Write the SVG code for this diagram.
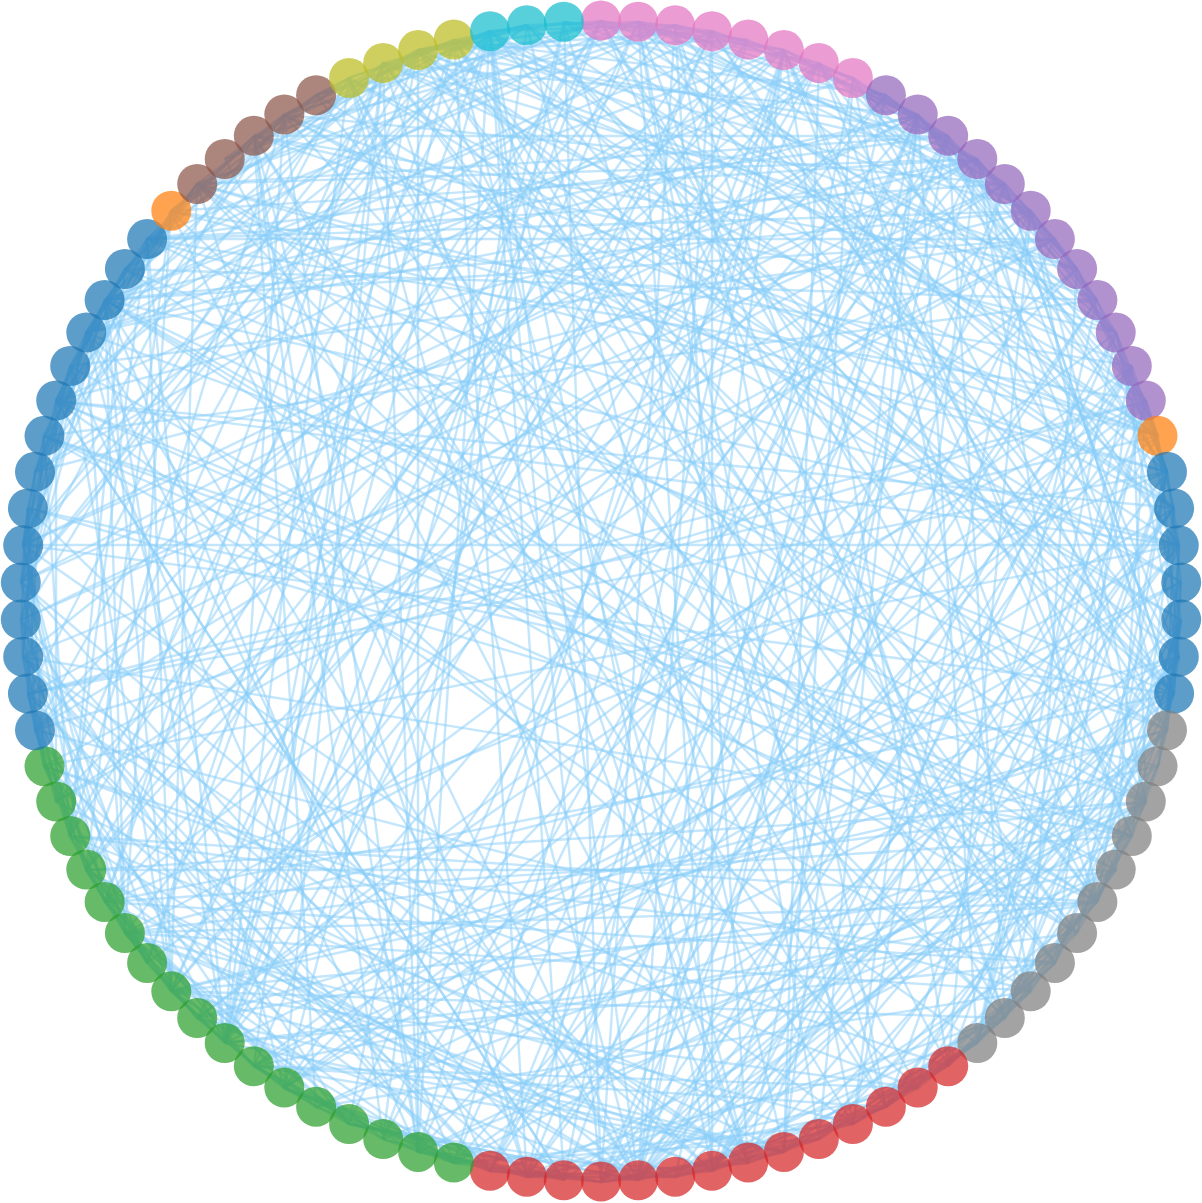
<svg xmlns="http://www.w3.org/2000/svg" width="1202" height="1203" viewBox="0 0 1202 1203">
<style>
#edges path{fill:none;stroke:#87cefa;stroke-opacity:.5;stroke-width:2.4}
.node circle{r:20px;fill-opacity:.72}
.bl circle{fill:#1f77b4}.or circle{fill:#ff7f0e}.gr circle{fill:#2ca02c}.rd circle{fill:#d62728}.pu circle{fill:#9467bd}.br circle{fill:#8c564b}.pk circle{fill:#e377c2}.gy circle{fill:#7f7f7f}.ol circle{fill:#bcbd22}.cy circle{fill:#17becf}
</style>
<rect width="1202" height="1203" fill="#fff"/>
<g id="edges">
<path d="M1055 239L1077 269"/><path d="M1077 269L383 63"/><path d="M383 63L105 902"/><path d="M105 902L1055 963"/><path d="M1055 963L284 115"/><path d="M284 115L56 401"/><path d="M56 401L1116 870"/><path d="M1116 870L977 1043"/><path d="M977 1043L712 1171"/><path d="M712 1171L1179 657"/><path d="M1179 657L819 1139"/><path d="M819 1139L977 1043"/><path d="M56 401L564 1180"/><path d="M564 1180L1167 730"/><path d="M1167 730L147 239"/><path d="M147 239L1146 401"/><path d="M1146 401L28 694"/><path d="M28 694L44 766"/><path d="M44 766L948 1066"/><path d="M948 1066L418 50"/><path d="M418 50L23 545"/><path d="M23 545L948 136"/><path d="M948 136L284 1088"/>
<path d="M284 1088L1158 436"/><path d="M1158 436L564 22"/><path d="M564 22L601 1182"/><path d="M601 1182L784 1152"/><path d="M784 1152L254 1066"/><path d="M254 1066L1179 545"/><path d="M1179 545L853 78"/><path d="M853 78L86 333"/><path d="M86 333L125 933"/><path d="M125 933L819 63"/><path d="M819 63L1167 730"/><path d="M1167 730L171 991"/><path d="M171 991L886 95"/><path d="M886 95L638 22"/><path d="M638 22L197 184"/><path d="M197 184L1167 730"/><path d="M1167 730L712 31"/><path d="M712 31L638 1180"/><path d="M638 1180L1181 620"/><path d="M1181 620L1077 933"/><path d="M1077 933L1167 472"/><path d="M1167 472L1116 333"/><path d="M1116 333L819 63"/><path d="M819 63L56 401"/><path d="M56 401L105 300"/>
<path d="M105 300L1055 239"/><path d="M1055 239L70 366"/><path d="M70 366L197 184"/><path d="M197 184L527 1177"/><path d="M527 1177L1116 870"/><path d="M1116 870L105 300"/><path d="M105 300L1146 802"/><path d="M1146 802L86 870"/><path d="M86 870L675 1177"/><path d="M675 1177L918 115"/><path d="M918 115L977 1043"/><path d="M977 1043L784 1152"/><path d="M784 1152L225 1043"/><path d="M225 1043L490 31"/><path d="M490 31L564 1180"/><path d="M564 1180L284 1088"/><path d="M284 1088L1174 508"/><path d="M1174 508L1132 836"/><path d="M1132 836L23 657"/><path d="M23 657L454 1163"/><path d="M454 1163L254 1066"/><path d="M254 1066L918 1088"/><path d="M918 1088L86 333"/><path d="M86 333L1167 730"/><path d="M1167 730L638 1180"/>
<path d="M638 1180L977 159"/><path d="M977 159L1116 333"/><path d="M1116 333L748 1163"/><path d="M748 1163L675 25"/><path d="M675 25L147 239"/><path d="M147 239L948 136"/><path d="M948 136L1174 694"/><path d="M1174 694L638 22"/><path d="M638 22L418 50"/><path d="M418 50L171 211"/><path d="M171 211L1167 472"/><path d="M1167 472L948 136"/><path d="M948 136L383 1139"/><path d="M383 1139L254 1066"/><path d="M254 1066L125 933"/><path d="M125 933L712 1171"/><path d="M712 1171L1174 508"/><path d="M1174 508L454 40"/><path d="M454 40L284 115"/><path d="M284 115L418 1152"/><path d="M418 1152L418 50"/><path d="M418 50L712 31"/><path d="M712 31L86 333"/><path d="M86 333L527 25"/><path d="M527 25L784 1152"/>
<path d="M784 1152L1167 730"/><path d="M86 333L918 115"/><path d="M918 115L23 545"/><path d="M23 545L86 870"/><path d="M86 870L254 1066"/><path d="M254 1066L1097 902"/><path d="M1097 902L784 1152"/><path d="M784 1152L197 1018"/><path d="M197 1018L1167 730"/><path d="M1167 730L675 1177"/><path d="M675 1177L349 1124"/><path d="M349 1124L638 1180"/><path d="M638 1180L1179 545"/><path d="M1179 545L1005 1018"/><path d="M1005 1018L197 184"/><path d="M197 184L44 436"/><path d="M44 436L1132 836"/><path d="M1132 836L105 902"/><path d="M105 902L1174 694"/><path d="M1174 694L1005 184"/><path d="M1005 184L638 22"/><path d="M638 22L316 95"/><path d="M316 95L349 78"/><path d="M349 78L748 1163"/>
<path d="M748 1163L125 933"/><path d="M125 933L171 211"/><path d="M171 211L86 870"/><path d="M86 870L383 63"/><path d="M383 63L1077 933"/><path d="M1077 933L225 1043"/><path d="M1077 933L197 184"/><path d="M197 184L948 136"/><path d="M948 136L748 1163"/><path d="M748 1163L819 1139"/><path d="M1179 657L125 933"/><path d="M125 933L105 300"/><path d="M105 300L1031 211"/><path d="M1031 211L948 1066"/><path d="M948 1066L1031 991"/><path d="M1031 991L853 78"/><path d="M853 78L1179 657"/><path d="M1179 657L675 25"/><path d="M675 25L601 1182"/><path d="M601 1182L1055 239"/><path d="M1055 239L1005 184"/><path d="M1005 184L21 620"/><path d="M21 620L23 657"/>
<path d="M23 657L748 1163"/><path d="M748 1163L225 159"/><path d="M225 159L601 21"/><path d="M601 21L86 870"/><path d="M86 870L819 63"/><path d="M819 63L1132 836"/><path d="M1132 836L383 1139"/><path d="M383 1139L254 136"/><path d="M254 136L1116 333"/><path d="M1116 333L638 1180"/><path d="M638 1180L86 333"/><path d="M86 333L490 1171"/><path d="M490 1171L918 115"/><path d="M918 115L1158 436"/><path d="M1158 436L527 25"/><path d="M527 25L1167 730"/><path d="M1167 730L1158 766"/><path d="M1158 766L1181 620"/><path d="M1181 620L918 1088"/><path d="M918 1088L349 78"/><path d="M349 78L28 694"/><path d="M28 694L454 1163"/><path d="M454 1163L125 933"/><path d="M125 933L1031 991"/><path d="M1031 991L44 436"/>
<path d="M44 436L383 63"/><path d="M383 63L254 1066"/><path d="M254 1066L712 31"/><path d="M712 31L225 1043"/><path d="M225 1043L638 22"/><path d="M638 22L1031 211"/><path d="M1031 211L1146 802"/><path d="M1146 802L454 1163"/><path d="M454 1163L784 50"/><path d="M784 50L638 1180"/><path d="M638 1180L105 300"/><path d="M105 300L748 40"/><path d="M748 40L86 870"/><path d="M86 870L490 1171"/><path d="M490 1171L1031 211"/><path d="M1031 211L147 239"/><path d="M147 239L1055 239"/><path d="M1055 239L44 766"/><path d="M44 766L527 1177"/><path d="M527 1177L454 40"/><path d="M454 40L1077 269"/><path d="M1077 269L977 159"/><path d="M977 159L225 1043"/><path d="M225 1043L454 40"/><path d="M454 40L1097 902"/>
<path d="M1097 902L784 50"/><path d="M784 50L23 657"/><path d="M23 657L35 730"/><path d="M35 730L1031 991"/><path d="M1031 991L316 1107"/><path d="M316 1107L254 1066"/><path d="M254 1066L1146 401"/><path d="M1146 401L454 1163"/><path d="M454 1163L918 115"/><path d="M918 115L1167 472"/><path d="M1167 472L197 184"/><path d="M197 184L977 159"/><path d="M977 159L21 620"/><path d="M21 620L86 333"/><path d="M86 333L418 50"/><path d="M418 50L1179 657"/><path d="M1179 657L977 159"/><path d="M977 159L56 401"/><path d="M56 401L1132 836"/><path d="M1132 836L784 50"/><path d="M784 50L977 159"/><path d="M977 159L171 211"/><path d="M171 211L638 1180"/>
<path d="M638 1180L853 78"/><path d="M853 78L784 1152"/><path d="M784 1152L171 991"/><path d="M171 991L1005 1018"/><path d="M1005 1018L638 22"/><path d="M638 22L171 991"/><path d="M171 991L21 582"/><path d="M21 582L490 31"/><path d="M490 31L70 836"/><path d="M70 836L1055 963"/><path d="M1055 963L1132 366"/><path d="M1132 366L171 211"/><path d="M171 211L23 545"/><path d="M23 545L1174 694"/><path d="M1174 694L1181 582"/><path d="M1181 582L284 115"/><path d="M284 115L1005 184"/><path d="M1005 184L1174 694"/><path d="M1174 694L418 50"/><path d="M86 333L125 269"/><path d="M125 269L638 22"/><path d="M638 22L1146 401"/><path d="M1146 401L601 1182"/><path d="M601 1182L1005 184"/>
<path d="M886 1107L254 1066"/><path d="M254 1066L1179 657"/><path d="M1179 657L454 1163"/><path d="M454 1163L284 1088"/><path d="M284 1088L564 22"/><path d="M564 22L418 50"/><path d="M418 50L1179 545"/><path d="M1179 545L147 239"/><path d="M147 239L171 991"/><path d="M171 991L125 933"/><path d="M125 933L1097 902"/><path d="M1097 902L125 269"/><path d="M125 269L1174 694"/><path d="M1174 694L490 31"/><path d="M490 31L675 25"/><path d="M675 25L254 136"/><path d="M254 136L886 1107"/><path d="M886 1107L564 22"/><path d="M564 22L1097 300"/><path d="M1097 300L418 50"/><path d="M1005 1018L527 1177"/><path d="M527 1177L784 50"/><path d="M784 50L105 300"/><path d="M105 300L918 115"/>
<path d="M918 115L21 582"/><path d="M21 582L454 40"/><path d="M454 40L748 1163"/><path d="M748 1163L383 63"/><path d="M383 63L1146 802"/><path d="M1146 802L44 436"/><path d="M44 436L1097 300"/><path d="M1097 300L918 1088"/><path d="M918 1088L171 991"/><path d="M171 991L197 184"/><path d="M197 184L1158 436"/><path d="M1158 436L284 115"/><path d="M284 115L601 21"/><path d="M601 21L171 991"/><path d="M171 991L70 366"/><path d="M70 366L1077 933"/><path d="M1077 933L105 300"/><path d="M105 300L454 1163"/><path d="M454 1163L853 1124"/><path d="M853 1124L977 159"/><path d="M977 159L35 730"/><path d="M35 730L70 836"/><path d="M70 836L601 21"/><path d="M601 21L1167 472"/>
<path d="M1167 472L638 1180"/><path d="M638 1180L886 95"/><path d="M886 95L105 902"/><path d="M105 902L1031 211"/><path d="M1031 211L1167 730"/><path d="M1167 730L1179 545"/><path d="M1179 545L819 63"/><path d="M125 933L35 730"/><path d="M35 730L418 50"/><path d="M418 50L147 239"/><path d="M147 239L225 1043"/><path d="M564 1180L784 50"/><path d="M105 300L1179 545"/><path d="M1179 545L1116 333"/><path d="M1116 333L1181 620"/><path d="M1181 620L1055 963"/><path d="M1055 963L454 40"/><path d="M454 40L886 95"/><path d="M886 95L1005 184"/><path d="M1005 184L147 239"/><path d="M147 239L86 333"/><path d="M86 333L977 159"/><path d="M977 159L21 582"/><path d="M21 582L564 1180"/>
<path d="M1167 730L886 1107"/><path d="M886 1107L675 25"/><path d="M675 25L35 730"/><path d="M35 730L1146 401"/><path d="M1146 401L977 1043"/><path d="M977 1043L490 1171"/><path d="M490 1171L977 159"/><path d="M784 50L383 1139"/><path d="M383 1139L527 25"/><path d="M171 991L1158 766"/><path d="M1158 766L638 1180"/><path d="M638 1180L490 31"/><path d="M490 31L601 1182"/><path d="M601 1182L1146 802"/><path d="M1146 802L977 1043"/><path d="M1146 401L125 933"/><path d="M125 933L853 1124"/><path d="M853 1124L254 136"/><path d="M254 136L948 136"/><path d="M948 136L564 22"/><path d="M564 22L349 1124"/><path d="M349 1124L105 902"/><path d="M105 902L418 50"/><path d="M418 50L1077 933"/>
<path d="M1077 933L712 1171"/><path d="M712 1171L1005 184"/><path d="M147 239L23 545"/><path d="M23 545L125 933"/><path d="M105 300L1097 902"/><path d="M1097 902L44 436"/><path d="M44 436L70 836"/><path d="M70 836L125 269"/><path d="M125 269L1097 300"/><path d="M1097 300L490 1171"/><path d="M490 1171L28 694"/><path d="M28 694L1158 436"/><path d="M1158 436L1146 401"/><path d="M1146 401L918 115"/>
<path d="M349 1124L638 1180"/><path d="M349 1124L44 766"/><path d="M44 766L1179 545"/><path d="M1179 545L712 1171"/><path d="M712 1171L712 31"/><path d="M638 1180L197 1018"/><path d="M197 1018L748 40"/><path d="M748 40L418 1152"/><path d="M418 1152L1116 870"/><path d="M1116 870L86 870"/><path d="M86 870L638 1180"/><path d="M1167 472L1097 902"/><path d="M1097 902L418 50"/><path d="M418 50L225 1043"/><path d="M225 1043L23 657"/><path d="M225 1043L1181 582"/><path d="M1181 582L349 78"/><path d="M349 78L886 1107"/><path d="M886 1107L1174 694"/><path d="M1174 694L1005 1018"/><path d="M1005 1018L1181 582"/><path d="M1181 582L284 1088"/><path d="M284 1088L35 730"/><path d="M35 730L819 63"/><path d="M819 63L225 1043"/>
<path d="M225 1043L147 963"/><path d="M147 963L1077 269"/><path d="M1077 269L284 1088"/><path d="M284 1088L86 333"/><path d="M86 333L21 582"/><path d="M21 582L254 136"/><path d="M254 136L1077 269"/><path d="M1077 269L1158 436"/><path d="M1158 436L383 63"/><path d="M383 63L918 115"/><path d="M918 115L171 991"/><path d="M171 991L105 300"/><path d="M105 300L383 63"/><path d="M383 63L418 1152"/><path d="M418 1152L918 115"/><path d="M1116 333L1077 269"/><path d="M1077 269L1031 991"/><path d="M1031 991L819 1139"/><path d="M819 1139L70 836"/><path d="M70 836L284 115"/><path d="M284 115L1181 620"/><path d="M1181 620L316 95"/><path d="M316 95L1031 991"/><path d="M1031 991L601 21"/><path d="M601 21L977 159"/>
<path d="M977 159L1097 902"/><path d="M784 50L1146 802"/><path d="M1146 802L418 1152"/><path d="M418 1152L254 136"/><path d="M254 136L1158 436"/><path d="M1158 436L712 1171"/><path d="M712 1171L105 902"/><path d="M105 902L1167 472"/><path d="M1167 472L977 1043"/><path d="M977 1043L886 1107"/><path d="M886 1107L712 1171"/><path d="M712 1171L490 31"/><path d="M490 31L1146 401"/><path d="M1146 401L886 1107"/><path d="M886 1107L527 1177"/><path d="M527 1177L1097 300"/><path d="M1097 300L918 115"/><path d="M918 115L819 1139"/><path d="M819 1139L1146 802"/><path d="M1146 802L316 1107"/><path d="M316 1107L1174 694"/><path d="M1174 694L712 31"/><path d="M712 31L105 902"/><path d="M105 902L23 545"/><path d="M23 545L490 31"/>
<path d="M490 31L1146 802"/><path d="M383 63L1132 366"/><path d="M1132 366L197 1018"/><path d="M197 1018L1116 333"/><path d="M1116 333L977 1043"/><path d="M1146 401L1116 870"/><path d="M1116 870L197 1018"/><path d="M1116 333L418 50"/><path d="M418 50L948 136"/><path d="M948 136L527 1177"/><path d="M527 1177L1132 366"/><path d="M1132 366L418 1152"/><path d="M418 1152L70 366"/><path d="M70 366L21 582"/><path d="M21 582L712 1171"/><path d="M1179 545L56 401"/><path d="M56 401L527 25"/><path d="M527 25L1174 694"/><path d="M1174 694L601 1182"/><path d="M601 1182L349 1124"/><path d="M349 1124L21 620"/><path d="M21 620L527 1177"/><path d="M527 1177L254 136"/><path d="M254 136L316 1107"/><path d="M316 1107L490 1171"/>
<path d="M490 1171L23 657"/><path d="M23 657L638 1180"/><path d="M638 1180L349 78"/><path d="M349 78L1174 508"/><path d="M1174 508L56 401"/><path d="M56 401L977 1043"/><path d="M977 1043L1132 366"/><path d="M1132 366L1146 802"/><path d="M1146 802L977 159"/><path d="M977 159L454 40"/>
<path d="M601 21L1097 902"/><path d="M1097 902L70 836"/><path d="M1097 902L171 991"/><path d="M784 1152L819 63"/><path d="M819 63L349 1124"/><path d="M349 1124L125 933"/><path d="M125 933L1146 802"/><path d="M1146 802L197 184"/><path d="M197 184L675 25"/><path d="M675 25L1031 211"/><path d="M1031 211L454 40"/><path d="M454 40L147 963"/><path d="M147 963L490 31"/><path d="M490 31L1174 508"/><path d="M1174 508L675 1177"/><path d="M675 1177L1005 1018"/><path d="M1005 1018L1146 401"/><path d="M1146 401L853 78"/><path d="M853 78L675 25"/><path d="M675 25L1116 333"/><path d="M1116 333L601 21"/><path d="M601 21L225 1043"/><path d="M454 40L1005 1018"/><path d="M1005 1018L675 25"/><path d="M675 25L35 472"/>
<path d="M35 472L784 50"/><path d="M784 50L948 1066"/><path d="M948 1066L1167 472"/><path d="M1167 472L28 694"/><path d="M28 508L1158 766"/><path d="M1158 766L1132 836"/><path d="M1132 836L28 508"/><path d="M28 508L23 545"/><path d="M23 545L1179 545"/><path d="M147 239L70 836"/><path d="M70 836L638 1180"/><path d="M638 1180L1132 366"/><path d="M1132 366L712 1171"/><path d="M712 1171L28 508"/><path d="M28 508L44 766"/><path d="M44 766L918 1088"/><path d="M918 1088L527 1177"/><path d="M1116 870L601 21"/><path d="M601 21L784 50"/><path d="M784 50L56 802"/><path d="M56 802L1005 184"/><path d="M1005 184L28 694"/><path d="M28 694L748 1163"/><path d="M748 1163L1179 657"/><path d="M1179 657L1055 963"/>
<path d="M1055 963L225 1043"/><path d="M225 1043L105 300"/><path d="M105 300L35 472"/><path d="M35 472L1031 211"/><path d="M1031 211L853 1124"/><path d="M853 1124L23 545"/><path d="M23 545L35 472"/><path d="M35 472L284 115"/><path d="M284 115L225 1043"/><path d="M225 1043L349 78"/><path d="M349 78L21 620"/><path d="M21 620L147 963"/><path d="M147 963L28 694"/><path d="M44 436L23 657"/><path d="M23 657L1055 239"/><path d="M1055 239L56 802"/><path d="M56 802L784 1152"/><path d="M784 1152L918 115"/><path d="M918 115L638 22"/><path d="M638 22L1174 508"/><path d="M1174 508L601 1182"/><path d="M601 1182L454 1163"/><path d="M454 1163L819 1139"/><path d="M819 1139L638 22"/><path d="M638 22L712 1171"/>
<path d="M712 1171L418 1152"/><path d="M418 1152L490 31"/><path d="M490 31L171 211"/><path d="M171 211L1005 1018"/><path d="M1005 1018L948 136"/><path d="M948 136L564 1180"/><path d="M564 1180L56 401"/><path d="M56 401L56 802"/><path d="M56 802L383 63"/><path d="M383 63L284 1088"/><path d="M383 63L1055 963"/><path d="M1055 963L853 1124"/><path d="M853 1124L638 22"/>
<path d="M601 21L819 63"/><path d="M638 22L712 31"/><path d="M675 25L784 50"/><path d="M712 31L918 115"/><path d="M748 40L918 115"/><path d="M784 50L853 78"/><path d="M819 63L918 115"/><path d="M853 78L948 136"/><path d="M886 95L1055 239"/><path d="M918 115L1031 211"/><path d="M948 136L1077 269"/><path d="M1005 184L1077 269"/><path d="M1031 211L1077 269"/><path d="M1055 239L1146 401"/><path d="M1077 269L1167 472"/><path d="M1097 300L1167 472"/><path d="M1116 333L1158 436"/><path d="M1132 366L1167 472"/><path d="M1146 401L1167 472"/><path d="M1158 436L1179 657"/><path d="M1167 472L1179 545"/><path d="M1174 508L1167 730"/><path d="M1181 582L1167 730"/><path d="M1181 620L1167 730"/><path d="M1179 657L1158 766"/>
<path d="M1174 694L1097 902"/><path d="M1167 730L1097 902"/><path d="M1158 766L1097 902"/><path d="M1146 802L1097 902"/><path d="M1132 836L1031 991"/><path d="M1116 870L1005 1018"/><path d="M1097 902L948 1066"/><path d="M1077 933L948 1066"/><path d="M1055 963L977 1043"/><path d="M1031 991L977 1043"/><path d="M1005 1018L886 1107"/><path d="M977 1043L853 1124"/><path d="M948 1066L853 1124"/><path d="M918 1088L853 1124"/><path d="M886 1107L748 1163"/><path d="M853 1124L638 1180"/><path d="M819 1139L601 1182"/><path d="M784 1152L675 1177"/><path d="M748 1163L527 1177"/><path d="M712 1171L601 1182"/><path d="M675 1177L527 1177"/><path d="M638 1180L490 1171"/><path d="M601 1182L418 1152"/><path d="M564 1180L418 1152"/>
<path d="M527 1177L383 1139"/><path d="M490 1171L284 1088"/><path d="M454 1163L383 1139"/><path d="M418 1152L254 1066"/><path d="M349 1124L284 1088"/><path d="M284 1088L197 1018"/><path d="M254 1066L171 991"/><path d="M225 1043L171 991"/><path d="M197 1018L125 933"/><path d="M171 991L70 836"/><path d="M147 963L86 870"/><path d="M125 933L86 870"/><path d="M105 902L70 836"/><path d="M86 870L28 694"/><path d="M70 836L23 657"/><path d="M56 802L28 694"/><path d="M44 766L21 620"/><path d="M35 730L28 508"/><path d="M28 694L28 508"/><path d="M23 657L35 472"/><path d="M21 620L28 508"/><path d="M21 582L28 508"/><path d="M23 545L56 401"/><path d="M28 508L44 436"/>
<path d="M35 472L125 269"/><path d="M44 436L105 300"/><path d="M56 401L86 333"/><path d="M105 300L197 184"/><path d="M125 269L254 136"/><path d="M147 239L254 136"/><path d="M171 211L349 78"/><path d="M197 184L316 95"/><path d="M225 159L284 115"/><path d="M254 136L454 40"/><path d="M284 115L349 78"/><path d="M316 95L527 25"/><path d="M349 78L454 40"/><path d="M383 63L527 25"/><path d="M418 50L527 25"/><path d="M454 40L527 25"/><path d="M527 25L638 22"/><path d="M564 22L784 50"/>
<path d="M638 22L748 40"/><path d="M712 31L853 78"/><path d="M784 50L948 136"/><path d="M853 78L1005 184"/><path d="M918 115L1116 333"/><path d="M977 159L1097 300"/><path d="M1031 211L1097 300"/><path d="M1116 333L1179 657"/><path d="M1146 401L1174 508"/><path d="M1167 472L1181 582"/><path d="M1179 545L1174 694"/><path d="M1181 620L1158 766"/><path d="M1158 766L1055 963"/><path d="M1132 836L1077 933"/><path d="M1097 902L886 1107"/><path d="M1055 963L886 1107"/><path d="M1005 1018L918 1088"/><path d="M948 1066L675 1177"/><path d="M886 1107L638 1180"/><path d="M819 1139L675 1177"/><path d="M748 1163L601 1182"/><path d="M675 1177L490 1171"/><path d="M601 1182L490 1171"/><path d="M527 1177L284 1088"/>
<path d="M454 1163L171 991"/><path d="M383 1139L125 933"/><path d="M316 1107L105 902"/><path d="M197 1018L105 902"/><path d="M147 963L44 766"/><path d="M105 902L44 766"/><path d="M70 836L21 582"/><path d="M28 694L44 436"/><path d="M21 620L105 300"/><path d="M23 545L70 366"/><path d="M35 472L171 211"/><path d="M56 401L125 269"/><path d="M86 333L197 184"/><path d="M125 269L316 95"/><path d="M171 211L284 115"/><path d="M225 159L490 31"/><path d="M284 115L418 50"/><path d="M349 78L490 31"/><path d="M418 50L748 40"/><path d="M490 31L601 21"/><path d="M564 22L748 40"/>
</g>
<g id="nodes">
<g id="n0" class="node pk"><circle cx="601" cy="20.5"/></g>
<g id="n1" class="node pk"><circle cx="638.2" cy="21.7"/></g>
<g id="n2" class="node pk"><circle cx="675.2" cy="25.3"/></g>
<g id="n3" class="node pk"><circle cx="712" cy="31.2"/></g>
<g id="n4" class="node pk"><circle cx="748.2" cy="39.5"/></g>
<g id="n5" class="node pk"><circle cx="783.9" cy="50.1"/></g>
<g id="n6" class="node pk"><circle cx="818.8" cy="62.9"/></g>
<g id="n7" class="node pk"><circle cx="852.9" cy="78"/></g>
<g id="n8" class="node pu"><circle cx="885.9" cy="95.2"/></g>
<g id="n9" class="node pu"><circle cx="917.7" cy="114.5"/></g>
<g id="n10" class="node pu"><circle cx="948.2" cy="135.8"/></g>
<g id="n11" class="node pu"><circle cx="977.3" cy="159"/></g>
<g id="n12" class="node pu"><circle cx="1004.8" cy="184"/></g>
<g id="n13" class="node pu"><circle cx="1030.7" cy="210.7"/></g>
<g id="n14" class="node pu"><circle cx="1054.9" cy="239.1"/></g>
<g id="n15" class="node pu"><circle cx="1077.1" cy="268.9"/></g>
<g id="n16" class="node pu"><circle cx="1097.4" cy="300.1"/></g>
<g id="n17" class="node pu"><circle cx="1115.7" cy="332.5"/></g>
<g id="n18" class="node pu"><circle cx="1131.8" cy="366"/></g>
<g id="n19" class="node pu"><circle cx="1145.8" cy="400.5"/></g>
<g id="n20" class="node or"><circle cx="1157.5" cy="435.8"/></g>
<g id="n21" class="node bl"><circle cx="1167" cy="471.8"/></g>
<g id="n22" class="node bl"><circle cx="1174.1" cy="508.4"/></g>
<g id="n23" class="node bl"><circle cx="1178.8" cy="545.3"/></g>
<g id="n24" class="node bl"><circle cx="1181.2" cy="582.4"/></g>
<g id="n25" class="node bl"><circle cx="1181.2" cy="619.6"/></g>
<g id="n26" class="node bl"><circle cx="1178.8" cy="656.7"/></g>
<g id="n27" class="node bl"><circle cx="1174.1" cy="693.6"/></g>
<g id="n28" class="node gy"><circle cx="1167" cy="730.2"/></g>
<g id="n29" class="node gy"><circle cx="1157.5" cy="766.2"/></g>
<g id="n30" class="node gy"><circle cx="1145.8" cy="801.5"/></g>
<g id="n31" class="node gy"><circle cx="1131.8" cy="836"/></g>
<g id="n32" class="node gy"><circle cx="1115.7" cy="869.5"/></g>
<g id="n33" class="node gy"><circle cx="1097.4" cy="901.9"/></g>
<g id="n34" class="node gy"><circle cx="1077.1" cy="933.1"/></g>
<g id="n35" class="node gy"><circle cx="1054.9" cy="962.9"/></g>
<g id="n36" class="node gy"><circle cx="1030.7" cy="991.3"/></g>
<g id="n37" class="node gy"><circle cx="1004.8" cy="1018"/></g>
<g id="n38" class="node gy"><circle cx="977.3" cy="1043"/></g>
<g id="n39" class="node rd"><circle cx="948.2" cy="1066.2"/></g>
<g id="n40" class="node rd"><circle cx="917.7" cy="1087.5"/></g>
<g id="n41" class="node rd"><circle cx="885.9" cy="1106.8"/></g>
<g id="n42" class="node rd"><circle cx="852.9" cy="1124"/></g>
<g id="n43" class="node rd"><circle cx="818.8" cy="1139.1"/></g>
<g id="n44" class="node rd"><circle cx="783.9" cy="1151.9"/></g>
<g id="n45" class="node rd"><circle cx="748.2" cy="1162.5"/></g>
<g id="n46" class="node rd"><circle cx="712" cy="1170.8"/></g>
<g id="n47" class="node rd"><circle cx="675.2" cy="1176.7"/></g>
<g id="n48" class="node rd"><circle cx="638.2" cy="1180.3"/></g>
<g id="n49" class="node rd"><circle cx="601" cy="1181.5"/></g>
<g id="n50" class="node rd"><circle cx="563.8" cy="1180.3"/></g>
<g id="n51" class="node rd"><circle cx="526.8" cy="1176.7"/></g>
<g id="n52" class="node rd"><circle cx="490" cy="1170.8"/></g>
<g id="n53" class="node gr"><circle cx="453.8" cy="1162.5"/></g>
<g id="n54" class="node gr"><circle cx="418.1" cy="1151.9"/></g>
<g id="n55" class="node gr"><circle cx="383.2" cy="1139.1"/></g>
<g id="n56" class="node gr"><circle cx="349.1" cy="1124"/></g>
<g id="n57" class="node gr"><circle cx="316.1" cy="1106.8"/></g>
<g id="n58" class="node gr"><circle cx="284.3" cy="1087.5"/></g>
<g id="n59" class="node gr"><circle cx="253.8" cy="1066.2"/></g>
<g id="n60" class="node gr"><circle cx="224.7" cy="1043"/></g>
<g id="n61" class="node gr"><circle cx="197.2" cy="1018"/></g>
<g id="n62" class="node gr"><circle cx="171.3" cy="991.3"/></g>
<g id="n63" class="node gr"><circle cx="147.1" cy="962.9"/></g>
<g id="n64" class="node gr"><circle cx="124.9" cy="933.1"/></g>
<g id="n65" class="node gr"><circle cx="104.6" cy="901.9"/></g>
<g id="n66" class="node gr"><circle cx="86.3" cy="869.5"/></g>
<g id="n67" class="node gr"><circle cx="70.2" cy="836"/></g>
<g id="n68" class="node gr"><circle cx="56.2" cy="801.5"/></g>
<g id="n69" class="node gr"><circle cx="44.5" cy="766.2"/></g>
<g id="n70" class="node bl"><circle cx="35" cy="730.2"/></g>
<g id="n71" class="node bl"><circle cx="27.9" cy="693.6"/></g>
<g id="n72" class="node bl"><circle cx="23.2" cy="656.7"/></g>
<g id="n73" class="node bl"><circle cx="20.8" cy="619.6"/></g>
<g id="n74" class="node bl"><circle cx="20.8" cy="582.4"/></g>
<g id="n75" class="node bl"><circle cx="23.2" cy="545.3"/></g>
<g id="n76" class="node bl"><circle cx="27.9" cy="508.4"/></g>
<g id="n77" class="node bl"><circle cx="35" cy="471.8"/></g>
<g id="n78" class="node bl"><circle cx="44.5" cy="435.8"/></g>
<g id="n79" class="node bl"><circle cx="56.2" cy="400.5"/></g>
<g id="n80" class="node bl"><circle cx="70.2" cy="366"/></g>
<g id="n81" class="node bl"><circle cx="86.3" cy="332.5"/></g>
<g id="n82" class="node bl"><circle cx="104.6" cy="300.1"/></g>
<g id="n83" class="node bl"><circle cx="124.9" cy="268.9"/></g>
<g id="n84" class="node bl"><circle cx="147.1" cy="239.1"/></g>
<g id="n85" class="node or"><circle cx="171.3" cy="210.7"/></g>
<g id="n86" class="node br"><circle cx="197.2" cy="184"/></g>
<g id="n87" class="node br"><circle cx="224.7" cy="159"/></g>
<g id="n88" class="node br"><circle cx="253.8" cy="135.8"/></g>
<g id="n89" class="node br"><circle cx="284.3" cy="114.5"/></g>
<g id="n90" class="node br"><circle cx="316.1" cy="95.2"/></g>
<g id="n91" class="node ol"><circle cx="349.1" cy="78"/></g>
<g id="n92" class="node ol"><circle cx="383.2" cy="62.9"/></g>
<g id="n93" class="node ol"><circle cx="418.1" cy="50.1"/></g>
<g id="n94" class="node ol"><circle cx="453.8" cy="39.5"/></g>
<g id="n95" class="node cy"><circle cx="490" cy="31.2"/></g>
<g id="n96" class="node cy"><circle cx="526.8" cy="25.3"/></g>
<g id="n97" class="node cy"><circle cx="563.8" cy="21.7"/></g>
</g>
</svg>
